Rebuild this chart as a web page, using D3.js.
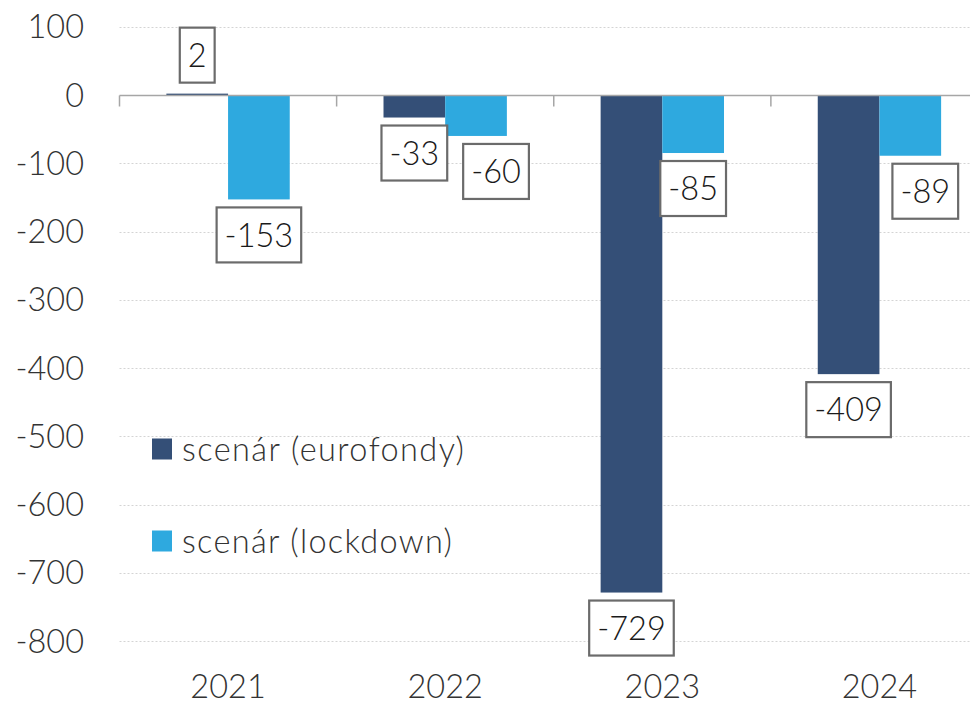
<!DOCTYPE html>
<html>
<head>
<meta charset="utf-8">
<script src="https://cdn.jsdelivr.net/npm/d3@7"></script>
<style>
  html, body { margin: 0; padding: 0; background: #fff; }
  svg { display: block; }
  text { font-family: Lato, "Open Sans", sans-serif; font-weight: 300; }
</style>
</head>
<body>
<svg id="chart" width="970" height="704"></svg>
<script>
const categories = ["2021", "2022", "2023", "2024"];
const seriesNames = ["scenár (eurofondy)", "scenár (lockdown)"];
const eurofondy = [2, -33, -729, -409];
const lockdown = [-153, -60, -85, -89];
const yTicks = [100, 0, -100, -200, -300, -400, -500, -600, -700, -800];
const colors = ["#344f77", "#2ea9df"];
// label nudges (px) to avoid overlaps, per series/category
const labelNudge = [[0, 0, 0, 0], [0, 20, 0, 15]];

const W = 970, H = 704;
const margin = { left: 119.5, top: 26.75, right: -18, bottom: 29 };
const svg = d3.select("#chart");

const x0 = d3.scaleBand().domain(categories).range([margin.left, W - margin.right]).paddingInner(0).paddingOuter(0);
const x1 = d3.scaleBand().domain([0, 1]).range([0, x0.bandwidth()]).paddingOuter(0.76).paddingInner(0);
const y = d3.scaleLinear().domain([100, -850]).range([margin.top, margin.top + 950 * 0.6825]);

const fontSize = 32.5;
const textColor = "#333333";

// gridlines
svg.append("g").selectAll("line").data(yTicks.filter(d => d !== 0)).join("line")
  .attr("x1", margin.left).attr("x2", W)
  .attr("y1", d => Math.round(y(d)) + 0.5).attr("y2", d => Math.round(y(d)) + 0.5)
  .attr("stroke", "#d4d4d4").attr("stroke-width", 1).attr("stroke-dasharray", "2,2");

// y axis labels
svg.append("g").selectAll("text").data(yTicks).join("text")
  .attr("x", 84).attr("y", d => y(d)).attr("dy", "0.36em")
  .attr("text-anchor", "end").attr("font-size", fontSize).attr("fill", textColor)
  .text(d => d);

// bars
const seriesData = [eurofondy, lockdown];
const barsG = svg.append("g");
seriesData.forEach((vals, si) => {
  barsG.selectAll(null).data(vals).join("rect")
    .attr("x", (d, i) => x0(categories[i]) + x1(si))
    .attr("width", x1.bandwidth())
    .attr("y", d => Math.min(y(d), y(0)))
    .attr("height", d => Math.abs(y(d) - y(0)))
    .attr("fill", colors[si]);
});

// zero axis
const zeroY = Math.round(y(0)) + 0.5;
svg.append("line").attr("x1", margin.left).attr("x2", W).attr("y1", zeroY).attr("y2", zeroY)
  .attr("stroke", "#a6a6a6").attr("stroke-width", 1.5);
const bounds = categories.map(c => x0(c)).concat([x0(categories[3]) + x0.bandwidth()]);
svg.append("g").selectAll("line").data(bounds).join("line")
  .attr("x1", d => d).attr("x2", d => d).attr("y1", zeroY).attr("y2", zeroY + 11)
  .attr("stroke", "#a6a6a6").attr("stroke-width", 1.5);

// x labels
svg.append("g").selectAll("text").data(categories).join("text")
  .attr("x", d => x0(d) + x0.bandwidth() / 2).attr("y", 698)
  .attr("text-anchor", "middle").attr("font-size", fontSize).attr("fill", textColor)
  .text(d => d);

// data labels
const labG = svg.append("g");
seriesData.forEach((vals, si) => {
  vals.forEach((v, i) => {
    const cx = x0(categories[i]) + x1(si) + x1.bandwidth() / 2 + labelNudge[si][i];
    const g = labG.append("g");
    const t = g.append("text").attr("text-anchor", "middle").attr("font-size", fontSize)
      .attr("fill", "#1a1a1a").attr("x", cx).text(v);
    const bb = t.node().getBBox();
    const bw = bb.width + 16, bh = 55;
    let boxTop;
    if (v >= 0) boxTop = y(v) - 11 - bh;
    else boxTop = y(v) + 8;
    g.insert("rect", "text").attr("x", cx - bw / 2).attr("y", boxTop).attr("width", bw).attr("height", bh)
      .attr("fill", "#fff").attr("stroke", "#6b6b6b").attr("stroke-width", 2.2);
    t.attr("y", boxTop + bh / 2).attr("dy", "0.36em");
  });
});

// legend
const leg = svg.append("g");
const legY = [449, 541];
const legLen = [282, 270];
seriesNames.forEach((n, i) => {
  leg.append("rect").attr("x", 152).attr("y", legY[i] - 10.5).attr("width", 20).attr("height", 21).attr("fill", colors[i]);
  leg.append("text").attr("x", 182).attr("y", legY[i]).attr("dy", "0.36em")
    .attr("font-size", fontSize).attr("fill", textColor)
    .attr("textLength", legLen[i]).attr("lengthAdjust", "spacing").text(n);
});
</script>
</body>
</html>
